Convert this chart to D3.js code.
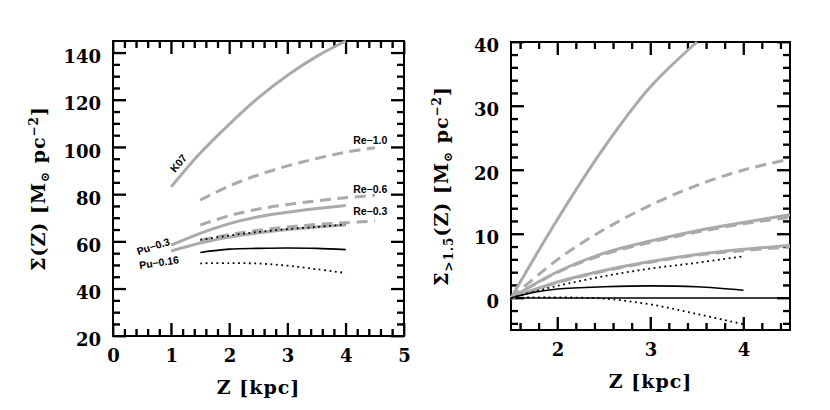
<!DOCTYPE html>
<html>
<head>
<meta charset="utf-8">
<script src="https://cdn.jsdelivr.net/npm/d3@7"></script>
</head>
<body style="margin:0;background:#fff">
<svg id="chart" width="830" height="410"></svg>
<script>
// ---- data ----
// left panel: Sigma(Z)
const zK07 = [1, 1.5, 2, 2.5, 3, 3.5, 4];
const sigK07 = [83.2, 97.5, 109.8, 121, 130.5, 138.5, 145];
const zPu = [1, 1.5, 2, 2.5, 3, 3.5, 4];
const sigPu03 = [58.5, 63.5, 67.6, 70.5, 72.4, 74, 75.3];
const sigPu016 = [56, 59.4, 61.9, 63.7, 65.1, 66.2, 67.0];
const zRe = [1.5, 2, 2.5, 3, 3.5, 4, 4.5];
const sigRe10 = [77.6, 83.6, 88.3, 92.1, 95.2, 97.9, 99.8];
const sigRe06 = [67, 71, 73.8, 75.7, 77.3, 78.6, 79.6];
const sigRe03 = [60.6, 63, 64.8, 66.2, 67.3, 68.0, 68.7];
const zBlk = [1.5, 2, 2.5, 3, 3.5, 4];
const sigDotUp = [60.7, 62.6, 64.1, 65.3, 66.2, 67.2];
const sigSolid = [55.4, 56.8, 57.15, 57.3, 57.15, 56.6];
const sigDotLo = [50.8, 50.9, 50.7, 49.8, 48.3, 46.7];

// right panel: Sigma_>1.5(Z)
const zR = [1.5, 2, 2.5, 3, 3.5, 4, 4.5];
const zK07R = [1.5, 2, 2.5, 3, 3.5];
const dK07 = [0, 12.3, 23.5, 33, 40];
const dRe10 = [0, 6.0, 10.7, 14.5, 17.6, 20, 21.7];
const dRe06 = [0, 4.0, 6.8, 8.7, 10.3, 11.6, 12.6];
const dPu03 = [0, 4.1, 7.0, 8.9, 10.5, 11.8, 13];
const dRe03 = [0, 2.4, 4.2, 5.6, 6.7, 7.4, 8.0];
const dPu016 = [0, 2.5, 4.3, 5.7, 6.8, 7.6, 8.2];
const zRb = [1.5, 1.75, 2, 2.5, 3, 3.5, 4];
const dDotUp = [0, 1.0, 1.9, 3.4, 4.6, 5.5, 6.5];
const dSolid = [0, 0.9, 1.4, 1.75, 1.9, 1.75, 1.2];
const dDotLo = [0, 0.1, 0.1, -0.1, -1.0, -2.5, -4.1];

const leftLabels = ['K07', 'Re−1.0', 'Re−0.6', 'Re−0.3', 'Pu−0.3', 'Pu−0.16'];

const GRAY = '#aaaaaa';
const SERIF = 'DejaVu Serif, serif';
const svg = d3.select('#chart');

const zip = (xs, ys) => xs.map((x, i) => [x, ys[i]]);

const minors = (a, b, step) => d3.range(a, b + 1e-9, step)
  .map(v => +v.toFixed(3))
  .filter(v => Math.abs(v - Math.round(v)) > 0.01);

// frame and inward ticks first, then the curves, then the texts
function panel(opts) {
  const { left, top, w, h, xDom, yDom, xMaj, xMin, yMaj, yMin } = opts;
  const x = d3.scaleLinear().domain(xDom).range([0, w]);
  const y = d3.scaleLinear().domain(yDom).range([h, 0]);
  const g = svg.append('g').attr('transform', `translate(${left},${top})`);

  g.append('rect').attr('width', w).attr('height', h)
    .attr('fill', 'none').attr('stroke', '#000').attr('stroke-width', 2);

  const vTicks = (vals, len) => {
    g.append('g').selectAll('line').data(vals).enter().append('line')
      .attr('x1', d => x(d)).attr('x2', d => x(d)).attr('y1', h).attr('y2', h - len)
      .attr('stroke', '#000').attr('stroke-width', 1.8);
    g.append('g').selectAll('line').data(vals).enter().append('line')
      .attr('x1', d => x(d)).attr('x2', d => x(d)).attr('y1', 0).attr('y2', len)
      .attr('stroke', '#000').attr('stroke-width', 1.8);
  };
  const hTicks = (vals, len) => {
    g.append('g').selectAll('line').data(vals).enter().append('line')
      .attr('x1', 0).attr('x2', len).attr('y1', d => y(d)).attr('y2', d => y(d))
      .attr('stroke', '#000').attr('stroke-width', 1.8);
    g.append('g').selectAll('line').data(vals).enter().append('line')
      .attr('x1', w).attr('x2', w - len).attr('y1', d => y(d)).attr('y2', d => y(d))
      .attr('stroke', '#000').attr('stroke-width', 1.8);
  };
  vTicks(xMaj, 13);
  vTicks(xMin, 7);
  hTicks(yMaj, 13);
  hTicks(yMin, 7);

  // the same marks once more through d3 axes
  const ax = (fn, scale, vals, len, tr) => {
    const a = g.append('g').attr('transform', tr)
      .call(fn(scale).tickValues(vals).tickSize(-len).tickFormat(() => ''));
    a.select('.domain').remove();
    a.selectAll('line').attr('stroke', '#000').attr('stroke-width', 1.8);
  };
  ax(d3.axisBottom, x, xMaj, 13, `translate(0,${h})`);
  ax(d3.axisBottom, x, xMin, 7, `translate(0,${h})`);
  ax(d3.axisTop, x, xMaj, 13, 'translate(0,0)');
  ax(d3.axisTop, x, xMin, 7, 'translate(0,0)');
  ax(d3.axisLeft, y, yMaj, 13, 'translate(0,0)');
  ax(d3.axisLeft, y, yMin, 7, 'translate(0,0)');
  ax(d3.axisRight, y, yMaj, 13, `translate(${w},0)`);
  ax(d3.axisRight, y, yMin, 7, `translate(${w},0)`);

  const plot = g.append('g');
  const line = d3.line().x(d => x(d[0])).y(d => y(d[1])).curve(d3.curveCatmullRom.alpha(0.5));
  return { ...opts, g, x, y, plot, line };
}

function draw(p, pts, style) {
  p.plot.append('path')
    .attr('d', p.line(pts))
    .attr('fill', 'none')
    .attr('stroke', style.c)
    .attr('stroke-width', style.w)
    .attr('stroke-dasharray', style.dash || null);
}

function texts(p) {
  const { w, h, x, y, xMaj, yMaj, g } = p;
  const xa = g.append('g').attr('transform', `translate(0,${h})`)
    .call(d3.axisBottom(x).tickValues(xMaj).tickSize(0).tickFormat(d3.format('d')));
  xa.select('.domain').remove();
  xa.selectAll('text').attr('dy', '1.3em')
    .attr('font-family', SERIF).attr('font-weight', 'bold').attr('font-size', 18).attr('fill', '#000');
  const ya = g.append('g')
    .call(d3.axisLeft(y).tickValues(yMaj).tickSize(0).tickFormat(d3.format('d')));
  ya.select('.domain').remove();
  ya.selectAll('text').attr('x', -12).attr('dy', '0.55em')
    .attr('font-family', SERIF).attr('font-weight', 'bold').attr('font-size', 18).attr('fill', '#000');

  g.append('text')
    .attr('x', w / 2).attr('y', h + 58).attr('text-anchor', 'middle')
    .attr('font-family', SERIF).attr('font-weight', 'bold').attr('font-size', 19)
    .attr('letter-spacing', 1).attr('fill', '#000')
    .text('Z [kpc]');
}

function yTitle(g, tx, ty, parts) {
  const t = g.append('text')
    .attr('transform', `translate(${tx},${ty}) rotate(-90)`)
    .attr('text-anchor', 'middle')
    .attr('font-family', SERIF).attr('font-weight', 'bold').attr('font-size', 19)
    .attr('letter-spacing', 1).attr('fill', '#000');
  parts.forEach(([txt, dy, small]) => {
    t.append('tspan').attr('dy', dy).attr('font-size', small ? 12 : null).text(txt);
  });
}

const solidG = { c: GRAY, w: 3 };
const dashG = { c: GRAY, w: 3, dash: '11,6.5' };
const solidK = { c: '#000', w: 1.6 };
const dotK = { c: '#000', w: 1.8, dash: '1.8,3.6' };

// ---- left panel ----
const L = panel({
  left: 113, top: 41, w: 291, h: 295,
  xDom: [0, 5], yDom: [20, 145],
  xMaj: d3.range(0, 6, 1), xMin: minors(0.2, 4.8, 0.2),
  yMaj: d3.range(20, 141, 20), yMin: d3.range(25, 145, 5).filter(v => v % 20 !== 0),
});

draw(L, zip(zK07, sigK07), solidG);
draw(L, zip(zRe, sigRe10), dashG);
draw(L, zip(zRe, sigRe06), dashG);
draw(L, zip(zRe, sigRe03), dashG);
draw(L, zip(zPu, sigPu03), solidG);
draw(L, zip(zPu, sigPu016), solidG);
draw(L, zip(zBlk, sigDotUp), dotK);
draw(L, zip(zBlk, sigSolid), solidK);
draw(L, zip(zBlk, sigDotLo), dotK);

texts(L);

// curve labels
const labPos = [[1.12, 93.3, -50], [4.42, 102.9, 0], [4.42, 82.3, 0], [4.42, 73, 0], [0.69, 58.1, -18], [0.79, 51.3, -8]];
L.g.append('g').selectAll('text').data(leftLabels).enter().append('text')
  .attr('font-family', 'Liberation Sans, sans-serif').attr('font-weight', 'bold').attr('font-size', 10.5)
  .attr('fill', '#000')
  .attr('text-anchor', 'middle')
  .attr('dominant-baseline', 'central')
  .attr('transform', (d, i) => `translate(${L.x(labPos[i][0])},${L.y(labPos[i][1])}) rotate(${labPos[i][2]})`)
  .text(d => d);

yTitle(L.g, -68, 295 / 2, [['Σ(Z) [M', 0], ['⊙', 4, true], [' pc', -4], ['−2', -7, true], [']', 7]]);

// ---- right panel ----
const R = panel({
  left: 511, top: 42, w: 279, h: 288,
  xDom: [1.5, 4.5], yDom: [-5, 40],
  xMaj: [2, 3, 4], xMin: minors(1.6, 4.4, 0.2),
  yMaj: d3.range(0, 41, 10), yMin: d3.range(-4, 40, 2).filter(v => v % 10 !== 0),
});

R.plot.append('line')
  .attr('x1', R.x(1.5)).attr('x2', R.x(4.5))
  .attr('y1', R.y(0)).attr('y2', R.y(0))
  .attr('stroke', '#000').attr('stroke-width', 1.6);

draw(R, zip(zK07R, dK07), solidG);
draw(R, zip(zR, dRe10), dashG);
draw(R, zip(zR, dRe06), dashG);
draw(R, zip(zR, dPu03), solidG);
draw(R, zip(zR, dRe03), dashG);
draw(R, zip(zR, dPu016), solidG);
draw(R, zip(zRb, dDotUp), dotK);
draw(R, zip(zRb, dSolid), solidK);
draw(R, zip(zRb, dDotLo), dotK);

texts(R);

yTitle(R.g, -63, 288 / 2, [['Σ', 0], ['>1.5', 5, true], ['(Z) [M', -5], ['⊙', 4, true], [' pc', -4], ['−2', -7, true], [']', 7]]);
</script>
</body>
</html>
